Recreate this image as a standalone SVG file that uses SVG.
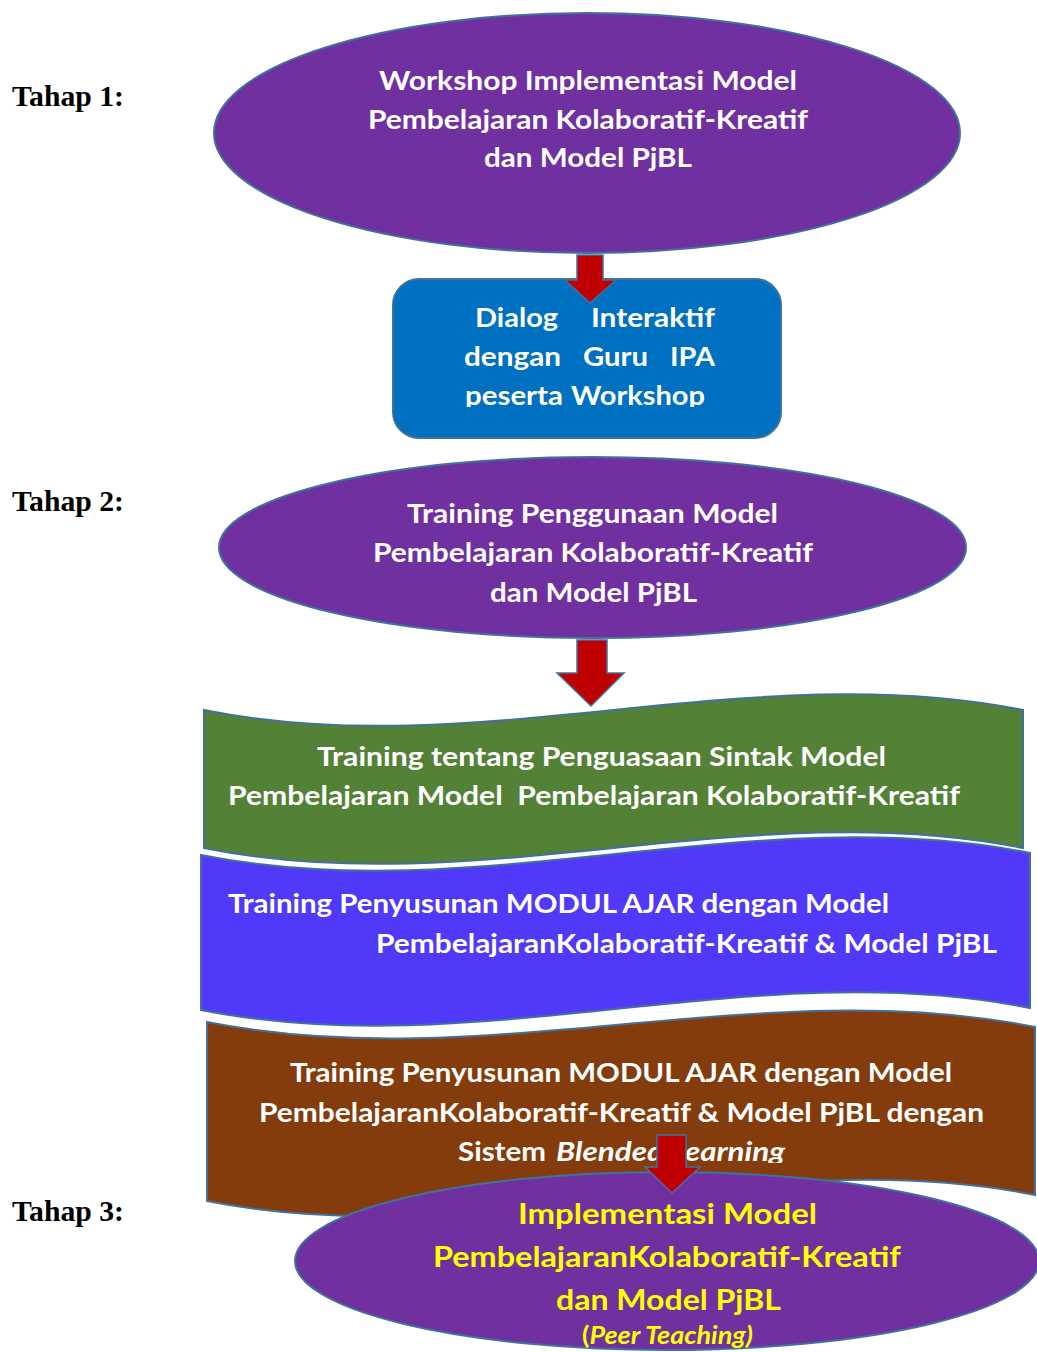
<svg xmlns="http://www.w3.org/2000/svg" width="1037" height="1352" viewBox="0 0 1037 1352">
<style>
.lbl{font-family:"Liberation Serif","Times New Roman",serif;font-weight:bold;font-size:29px;fill:#000}
.t{font-family:Lato,"Open Sans","Liberation Sans",sans-serif;font-weight:bold;font-size:27px;fill:#fff}
.y{fill:#FFFF00;font-size:29px}
.sh{stroke:#41719C;stroke-width:2}
.arr{fill:#C00000;stroke:#41719C;stroke-width:1.5;stroke-linejoin:miter}
</style>
<defs>
<clipPath id="clipBox"><rect x="390" y="280" width="400" height="127"/></clipPath>
<clipPath id="clipBrown"><rect x="200" y="1020" width="837" height="143"/></clipPath>
</defs>
<rect width="1037" height="1352" fill="#fff"/>

<g id="labels">
<text class="lbl" x="12" y="106" textLength="112" lengthAdjust="spacingAndGlyphs">Tahap 1:</text>
<text class="lbl" x="12" y="511" textLength="112" lengthAdjust="spacingAndGlyphs">Tahap 2:</text>
<text class="lbl" x="12" y="1221" textLength="112" lengthAdjust="spacingAndGlyphs">Tahap 3:</text>
</g>

<g id="node-workshop">
<ellipse class="sh" cx="587" cy="133" rx="373" ry="120" fill="#7030A0"/>
<text class="t" x="379" y="90" textLength="418" lengthAdjust="spacingAndGlyphs">Workshop Implementasi Model</text>
<text class="t" x="368" y="129" textLength="440" lengthAdjust="spacingAndGlyphs">Pembelajaran Kolaboratif-Kreatif</text>
<text class="t" x="484" y="167" textLength="208" lengthAdjust="spacingAndGlyphs">dan Model PjBL</text>
</g>

<g id="node-dialog">
<rect class="sh" x="393" y="279" width="388" height="159" rx="26" fill="#0070C0"/>
<g clip-path="url(#clipBox)">
<text class="t" x="475" y="327" textLength="83" lengthAdjust="spacingAndGlyphs">Dialog</text>
<text class="t" x="591" y="327" textLength="124" lengthAdjust="spacingAndGlyphs">Interaktif</text>
<text class="t" x="464" y="366" textLength="97" lengthAdjust="spacingAndGlyphs">dengan</text>
<text class="t" x="583" y="366" textLength="65" lengthAdjust="spacingAndGlyphs">Guru</text>
<text class="t" x="670" y="366" textLength="45" lengthAdjust="spacingAndGlyphs">IPA</text>
<text class="t" x="465" y="405" textLength="98" lengthAdjust="spacingAndGlyphs">peserta</text>
<text class="t" x="571" y="405" textLength="134" lengthAdjust="spacingAndGlyphs">Workshop</text>
</g>
</g>

<g id="node-training">
<ellipse class="sh" cx="592.5" cy="547.5" rx="373.5" ry="90.5" fill="#7030A0"/>
<text class="t" x="407" y="523" textLength="371" lengthAdjust="spacingAndGlyphs">Training Penggunaan Model</text>
<text class="t" x="373" y="562" textLength="440" lengthAdjust="spacingAndGlyphs">Pembelajaran Kolaboratif-Kreatif</text>
<text class="t" x="490" y="602" textLength="207" lengthAdjust="spacingAndGlyphs">dan Model PjBL</text>
</g>

<g id="node-sintak">
<path class="sh" fill="#538135" d="M204,710 C477,765 750,655 1023,710 L1023,848 C750,793 477,903 204,848 Z"/>
<text class="t" x="317" y="766" textLength="569" lengthAdjust="spacingAndGlyphs">Training tentang Penguasaan Sintak Model</text>
<text class="t" x="228" y="805" textLength="732" lengthAdjust="spacingAndGlyphs" xml:space="preserve">Pembelajaran Model  Pembelajaran Kolaboratif-Kreatif</text>
</g>

<g id="node-modul">
<path class="sh" fill="#5039F9" d="M201,855 C477,910 753,798 1030,853 L1030,1008 C753,953 477,1065 201,1010 Z"/>
<text class="t" x="228" y="913" textLength="661" lengthAdjust="spacingAndGlyphs">Training Penyusunan MODUL AJAR dengan Model</text>
<text class="t" x="376" y="953" textLength="621" lengthAdjust="spacingAndGlyphs">PembelajaranKolaboratif-Kreatif &amp; Model PjBL</text>
</g>

<g id="node-blended">
<path class="sh" fill="#843C0C" d="M207,1022 C483,1077 759,972 1035,1027 L1035,1195 C759,1140 483,1256 207,1201 Z"/>
<g clip-path="url(#clipBrown)">
<text class="t" x="290" y="1082" textLength="662" lengthAdjust="spacingAndGlyphs">Training Penyusunan MODUL AJAR dengan Model</text>
<text class="t" x="259" y="1122" textLength="725" lengthAdjust="spacingAndGlyphs">PembelajaranKolaboratif-Kreatif &amp; Model PjBL dengan</text>
<text class="t" x="458" y="1161" textLength="88" lengthAdjust="spacingAndGlyphs">Sistem</text>
<text class="t" x="556" y="1161" textLength="229" lengthAdjust="spacingAndGlyphs" font-style="italic">Blended Learning</text>
</g>
</g>

<g id="node-implementasi">
<ellipse class="sh" cx="667" cy="1261" rx="372" ry="89" fill="#7030A0"/>
<text class="t y" x="518" y="1224" textLength="299" lengthAdjust="spacingAndGlyphs">Implementasi Model</text>
<text class="t y" x="433" y="1267" textLength="468" lengthAdjust="spacingAndGlyphs">PembelajaranKolaboratif-Kreatif</text>
<text class="t y" x="556" y="1310" textLength="225" lengthAdjust="spacingAndGlyphs">dan Model PjBL</text>
<text class="t y" x="582" y="1344" style="font-size:24px" textLength="171" lengthAdjust="spacingAndGlyphs">(<tspan font-style="italic">Peer Teaching)</tspan></text>
</g>

<g id="connectors">
<path class="arr" d="M577,255 L603,255 L603,280 L616,280 L590,303 L565,280 L577,280 Z"/>
<path class="arr" d="M577,640 L607,640 L607,673 L624,673 L591,706 L557,673 L577,673 Z"/>
<path class="arr" d="M657,1135 L686,1135 L686,1167 L700,1167 L672,1193 L645,1167 L657,1167 Z"/>
</g>
</svg>
